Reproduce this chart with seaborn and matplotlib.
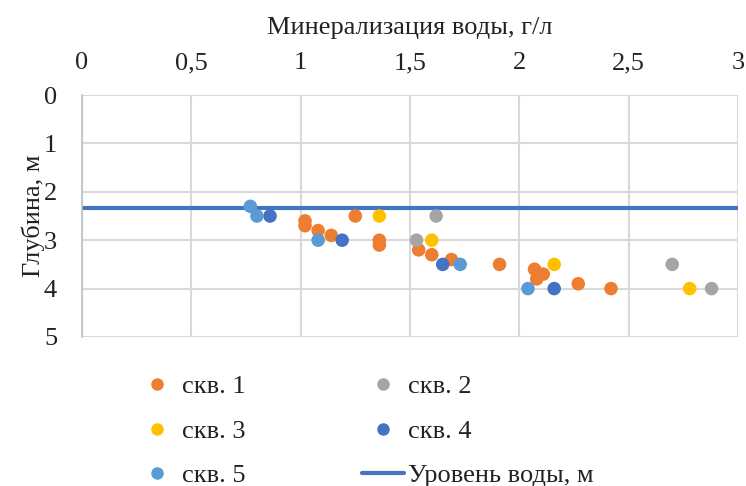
import matplotlib
matplotlib.use("Agg")
import matplotlib.pyplot as plt
from matplotlib.lines import Line2D
import seaborn as sns
import pandas as pd

# Data
s1_x = [1.02, 1.02, 1.08, 1.14, 1.25, 1.36, 1.36, 1.54, 1.60, 1.69, 1.91, 2.07, 2.08, 2.11, 2.27, 2.42]
s1_y = [2.6, 2.7, 2.8, 2.9, 2.5, 3.0, 3.1, 3.2, 3.3, 3.4, 3.5, 3.6, 3.8, 3.7, 3.9, 4.0]
s2_x = [1.62, 1.53, 2.70, 2.88]
s2_y = [2.5, 3.0, 3.5, 4.0]
s3_x = [1.36, 1.60, 2.16, 2.78]
s3_y = [2.5, 3.0, 3.5, 4.0]
s4_x = [0.86, 1.19, 1.65, 2.16]
s4_y = [2.5, 3.0, 3.5, 4.0]
s5_x = [0.77, 0.80, 1.08, 1.73, 2.04]
s5_y = [2.3, 2.5, 3.0, 3.5, 4.0]
series_names = ["скв. 1", "скв. 2", "скв. 3", "скв. 4", "скв. 5"]
series_colors = ["#ED7D31", "#A5A5A5", "#FFC000", "#4472C4", "#5B9BD5"]
water_level = 2.33
water_x = [0, 3]
water_name = "Уровень воды, м"
x_ticks = [0, 0.5, 1, 1.5, 2, 2.5, 3]
x_tick_labels = ["0", "0,5", "1", "1,5", "2", "2,5", "3"]
y_ticks = [0, 1, 2, 3, 4, 5]

xs = [s1_x, s2_x, s3_x, s4_x, s5_x]
ys = [s1_y, s2_y, s3_y, s4_y, s5_y]
rows = []
for name, xx, yy in zip(series_names, xs, ys):
    for a, b in zip(xx, yy):
        rows.append({"x": a, "y": b, "series": name})
df = pd.DataFrame(rows)

sns.set_theme(style="white")
plt.rcParams["font.family"] = ["Liberation Serif", "DejaVu Serif"]
FS = 19

fig = plt.figure(figsize=(7.46, 4.86), dpi=100)
ax = fig.add_axes([0.110, 0.3066, 0.879, 0.4979])

palette = dict(zip(series_names, series_colors))
ax.plot(water_x, [water_level, water_level], color="#4472C4", lw=3, zorder=2)
sns.scatterplot(data=df, x="x", y="y", hue="series", palette=palette,
                s=95, edgecolor="none", legend=False, ax=ax, zorder=3)

ax.set_xlim(0, 3)
ax.set_ylim(5, 0)
ax.set_xticks(x_ticks)
ax.set_xticklabels(x_tick_labels)
ax.set_yticks(y_ticks)
ax.xaxis.tick_top()
ax.xaxis.set_label_position("top")
ax.tick_params(axis="both", length=0, labelsize=FS, colors="#222222")
ax.tick_params(axis="x", pad=15)
ax.tick_params(axis="y", pad=18)
ax.grid(True, color="#D9D9D9", lw=1.5)
ax.set_axisbelow(True)
for side in ["top", "right", "bottom"]:
    ax.spines[side].set_visible(False)
ax.spines["left"].set_color("#BFBFBF")
ax.spines["left"].set_linewidth(1.2)
ax.set_xlabel("Минерализация воды, г/л", fontsize=FS, color="#222222", labelpad=13)
ax.set_ylabel("Глубина, м", fontsize=FS, color="#222222")
ax.yaxis.set_label_coords(-0.056, 0.5)

handles = {}
for n, c in zip(series_names, series_colors):
    handles[n] = Line2D([], [], ls="none", marker="o", ms=9, color=c, markeredgewidth=0)
handles[water_name] = Line2D([], [], color="#4472C4", lw=3)
order = ["скв. 1", "скв. 3", "скв. 5", "скв. 2", "скв. 4", water_name]
leg = fig.legend([handles[k] for k in order], order, ncol=2, loc="upper left",
                 bbox_to_anchor=(0.182, 0.229), frameon=False, fontsize=FS,
                 columnspacing=4.4, handlelength=1.6, handletextpad=0.15,
                 labelspacing=0.8, borderaxespad=0, borderpad=0)
for t in leg.get_texts():
    t.set_color("#222222")

fig.savefig("out.png", dpi=100)
